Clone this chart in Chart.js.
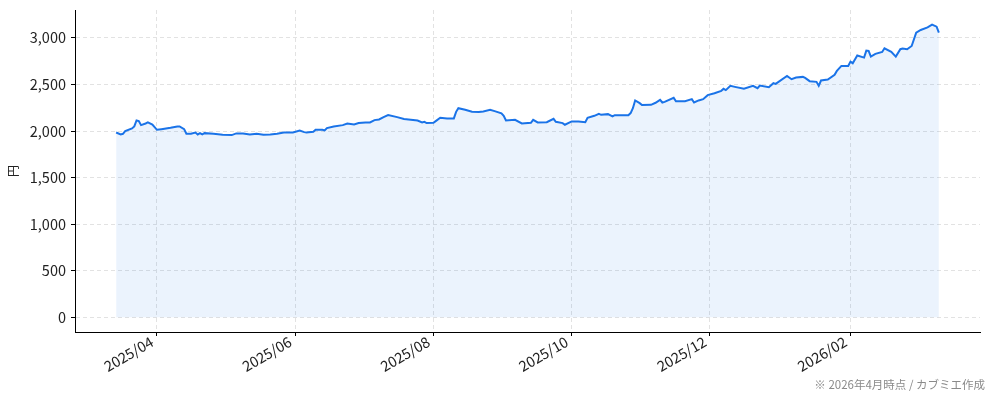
<!DOCTYPE html>
<html>
<head>
<meta charset="utf-8">
<script src="https://cdn.jsdelivr.net/npm/chart.js@4.4.1/dist/chart.umd.min.js"></script>
<style>
  html, body { margin: 0; padding: 0; background: #fff; }
  #c { display: block; }
</style>
</head>
<body>
<canvas id="c" width="994" height="401"></canvas>
<script>
const dates = [
  '2025-03-14','2025-03-16','2025-03-17','2025-03-18','2025-03-21','2025-03-22','2025-03-23','2025-03-24','2025-03-25','2025-03-27','2025-03-28','2025-03-30',
  '2025-04-01','2025-04-03','2025-04-05','2025-04-07','2025-04-10','2025-04-11','2025-04-13','2025-04-14','2025-04-16','2025-04-18','2025-04-19','2025-04-20','2025-04-21','2025-04-22','2025-04-26','2025-04-30',
  '2025-05-04','2025-05-06','2025-05-09','2025-05-12','2025-05-15','2025-05-18','2025-05-21','2025-05-24','2025-05-27','2025-05-31',
  '2025-06-03','2025-06-05','2025-06-06','2025-06-09','2025-06-10','2025-06-13','2025-06-14','2025-06-15','2025-06-18','2025-06-22','2025-06-24','2025-06-27','2025-06-29',
  '2025-07-02','2025-07-04','2025-07-06','2025-07-08','2025-07-10','2025-07-12','2025-07-16','2025-07-19','2025-07-22','2025-07-25','2025-07-27','2025-07-28','2025-07-29',
  '2025-08-01','2025-08-02','2025-08-04','2025-08-07','2025-08-10','2025-08-11','2025-08-12','2025-08-15','2025-08-18','2025-08-21','2025-08-23','2025-08-26','2025-08-28','2025-08-31',
  '2025-09-01','2025-09-02','2025-09-06','2025-09-09','2025-09-13','2025-09-14','2025-09-16','2025-09-20','2025-09-23','2025-09-24','2025-09-27','2025-09-28',
  '2025-10-01','2025-10-04','2025-10-07','2025-10-08','2025-10-11','2025-10-13','2025-10-14','2025-10-17','2025-10-19','2025-10-20','2025-10-26','2025-10-27','2025-10-28','2025-10-29','2025-10-31',
  '2025-11-01','2025-11-05','2025-11-07','2025-11-09','2025-11-10','2025-11-11','2025-11-15','2025-11-16','2025-11-20','2025-11-23','2025-11-24','2025-11-26','2025-11-28','2025-11-30',
  '2025-12-03','2025-12-06','2025-12-07','2025-12-08','2025-12-10','2025-12-12','2025-12-16','2025-12-20','2025-12-22','2025-12-23','2025-12-27','2025-12-29','2025-12-30',
  '2026-01-04','2026-01-06','2026-01-08','2026-01-11','2026-01-12','2026-01-14','2026-01-17','2026-01-18','2026-01-19','2026-01-22','2026-01-25','2026-01-26','2026-01-28','2026-01-31',
  '2026-02-01','2026-02-02','2026-02-04','2026-02-07','2026-02-08','2026-02-09','2026-02-10','2026-02-12','2026-02-15','2026-02-16','2026-02-19','2026-02-21','2026-02-23','2026-02-24','2026-02-26','2026-02-28',
  '2026-03-02','2026-03-04','2026-03-07','2026-03-09','2026-03-11','2026-03-12'
];
const prices = [
  1985,1964,1971,2000,2028,2050,2114,2107,2064,2082,2093,2071,
  2014,2021,2028,2036,2050,2050,2021,1971,1971,1985,1964,1978,1964,1978,1971,1961,
  1957,1975,1975,1964,1971,1961,1964,1971,1985,1985,
  2005,1989,1985,1993,2014,2014,2007,2032,2050,2064,2082,2071,2086,
  2093,2093,2118,2125,2150,2172,2150,2129,2121,2114,2093,2100,2086,
  2089,2107,2143,2136,2136,2207,2246,2229,2207,2204,2211,2229,2214,2190,
  2164,2114,2121,2082,2089,2121,2093,2096,2132,2100,2086,2068,
  2104,2104,2096,2143,2164,2186,2175,2182,2157,2171,2171,2193,2246,2329,2300,
  2279,2282,2304,2336,2307,2314,2357,2321,2321,2343,2307,2329,2343,2386,
  2407,2432,2454,2440,2486,2475,2454,2486,2461,2489,2471,2514,2507,
  2593,2557,2575,2582,2571,2536,2529,2486,2543,2554,2604,2646,2700,2700,
  2746,2729,2811,2789,2864,2861,2800,2829,2850,2889,2850,2800,2879,2886,2879,2914,
  3057,3086,3114,3143,3121,3057
];
const tickDates = ['2025-04-01','2025-06-01','2025-08-01','2025-10-01','2025-12-01','2026-02-01'];
const tickLabels = ['2025/04','2025/06','2025/08','2025/10','2025/12','2026/02'];
const yTicks = [0, 500, 1000, 1500, 2000, 2500, 3000];
const yTitle = '円';
const note = '※ 2026年4月時点 / カブミエ作成';

const BASE = Date.UTC(2025, 3, 1);
const dayOf = s => (Date.parse(s + 'T00:00:00Z') - BASE) / 864e5;

const points = dates.map((d, i) => ({ x: dayOf(d), y: prices[i] }));
const x0 = dayOf(dates[0]), x1 = dayOf(dates[dates.length - 1]);
const xm = (x1 - x0) * 0.05;
const yMaxData = Math.max(...prices);
const ym = yMaxData * 0.05;

const FONT = '"Noto Sans CJK JP", "Noto Sans", sans-serif';
const tickFont = { family: FONT, size: 14.5 };

const notePlugin = {
  id: 'note',
  afterDraw(chart) {
    const ctx = chart.ctx;
    ctx.save();
    ctx.font = '11.5px ' + FONT;
    ctx.fillStyle = '#8a8a8a';
    ctx.textAlign = 'right';
    ctx.textBaseline = 'alphabetic';
    ctx.fillText(note, 985, 389);
    ctx.restore();
  }
};

new Chart(document.getElementById('c'), {
  type: 'line',
  data: {
    datasets: [{
      data: points,
      borderColor: '#1a73e8',
      borderWidth: 2,
      backgroundColor: 'rgba(26,115,232,0.085)',
      fill: 'origin',
      pointRadius: 0,
      tension: 0
    }]
  },
  options: {
    responsive: false,
    animation: false,
    layout: { padding: { top: 10, right: 14, left: 0, bottom: 0 } },
    plugins: { legend: { display: false }, tooltip: { enabled: false } },
    scales: {
      x: {
        type: 'linear',
        min: x0 - xm,
        max: x1 + xm,
        afterBuildTicks: s => { s.ticks = tickDates.map(d => ({ value: dayOf(d) })); },
        afterFit: s => { s.height = 69; s.paddingLeft = 0; s.paddingRight = 0; },
        ticks: {
          autoSkip: false,
          minRotation: 30,
          maxRotation: 30,
          padding: -3,
          labelOffset: -5,
          color: '#222',
          font: tickFont,
          callback: (v, i) => tickLabels[i]
        },
        grid: {
          color: '#e2e2e2',
          lineWidth: 1,
          tickLength: 4,
          tickColor: '#000',
          tickWidth: 1
        },
        border: { display: true, color: '#000', width: 1, dash: [4, 3] }
      },
      y: {
        min: -ym,
        max: yMaxData + ym,
        afterBuildTicks: s => { s.ticks = yTicks.map(v => ({ value: v })); },
        afterFit: s => { s.width = 75; s.paddingTop = 0; s.paddingBottom = 0; },
        ticks: {
          padding: 5,
          color: '#222',
          font: tickFont,
          callback: v => v.toLocaleString('en-US')
        },
        grid: {
          color: '#e2e2e2',
          lineWidth: 1,
          tickLength: 4,
          tickColor: '#000',
          tickWidth: 1
        },
        border: { display: true, color: '#000', width: 1, dash: [4, 3] },
        title: {
          display: true,
          text: yTitle,
          color: '#222',
          font: { family: FONT, size: 12 },
          padding: { top: 6, bottom: 0 }
        }
      }
    }
  },
  plugins: [notePlugin]
});
</script>
</body>
</html>
